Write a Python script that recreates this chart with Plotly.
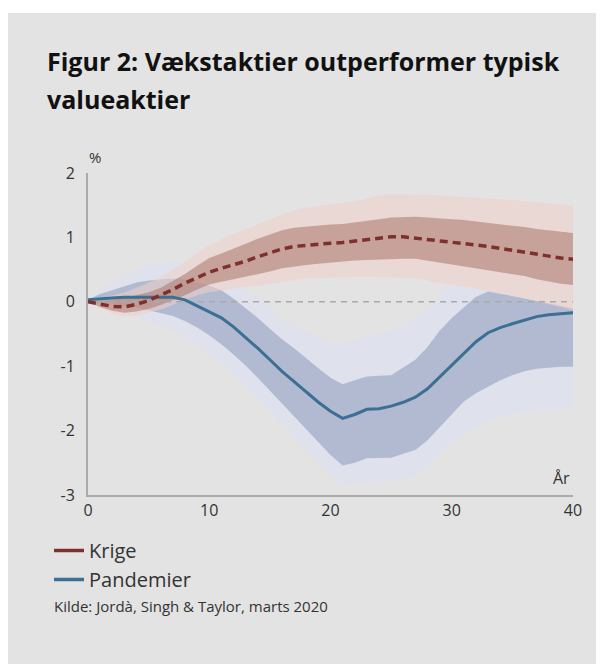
import plotly.graph_objects as go

years = list(range(0, 41))

krige_mean = [0.0, -0.04, -0.07, -0.08, -0.04, 0.02, 0.10, 0.19, 0.29, 0.38, 0.46, 0.52, 0.57, 0.63, 0.70,
              0.76, 0.82, 0.86, 0.88, 0.90, 0.91, 0.92, 0.94, 0.96, 0.99, 1.01, 1.01, 0.99, 0.97, 0.95,
              0.93, 0.91, 0.89, 0.86, 0.83, 0.80, 0.77, 0.73, 0.70, 0.68, 0.66]
krige_light_hi = [0.0, 0.05, 0.10, 0.15, 0.22, 0.30, 0.38, 0.50, 0.63, 0.76, 0.88, 0.97, 1.05, 1.12, 1.20,
                  1.28, 1.36, 1.42, 1.46, 1.49, 1.51, 1.53, 1.56, 1.60, 1.65, 1.67, 1.67, 1.67, 1.66, 1.65,
                  1.64, 1.63, 1.62, 1.61, 1.60, 1.58, 1.56, 1.54, 1.52, 1.51, 1.50]
krige_dark_hi = [0.0, 0.01, 0.03, 0.06, 0.10, 0.15, 0.22, 0.32, 0.43, 0.56, 0.68, 0.75, 0.82, 0.90, 0.98,
                 1.05, 1.11, 1.15, 1.17, 1.18, 1.20, 1.21, 1.23, 1.25, 1.28, 1.31, 1.32, 1.32, 1.31, 1.29,
                 1.28, 1.27, 1.25, 1.23, 1.21, 1.19, 1.16, 1.13, 1.11, 1.09, 1.07]
krige_dark_lo = [0.0, -0.08, -0.14, -0.17, -0.15, -0.11, -0.05, 0.02, 0.10, 0.19, 0.27, 0.31, 0.35, 0.38, 0.42,
                 0.47, 0.52, 0.55, 0.57, 0.59, 0.61, 0.63, 0.64, 0.65, 0.66, 0.67, 0.67, 0.67, 0.64, 0.61,
                 0.58, 0.55, 0.52, 0.50, 0.47, 0.44, 0.40, 0.35, 0.31, 0.28, 0.26]
krige_light_lo = [0.0, -0.10, -0.18, -0.22, -0.21, -0.17, -0.12, -0.05, 0.03, 0.10, 0.15, 0.18, 0.21, 0.23, 0.25,
                  0.28, 0.31, 0.34, 0.36, 0.37, 0.38, 0.39, 0.39, 0.39, 0.39, 0.38, 0.37, 0.36, 0.33, 0.30,
                  0.27, 0.24, 0.21, 0.17, 0.13, 0.10, 0.06, 0.01, -0.04, -0.09, -0.13]

pand_mean = [0.03, 0.05, 0.06, 0.07, 0.07, 0.07, 0.07, 0.07, 0.03, -0.06, -0.15, -0.25, -0.39, -0.55, -0.72,
             -0.90, -1.08, -1.24, -1.40, -1.56, -1.70, -1.81, -1.75, -1.67, -1.66, -1.62, -1.56, -1.48, -1.35, -1.17,
             -0.99, -0.80, -0.62, -0.48, -0.40, -0.34, -0.28, -0.23, -0.20, -0.18, -0.17]
pand_light_hi = [0.03, 0.18, 0.30, 0.42, 0.50, 0.56, 0.60, 0.62, 0.60, 0.53, 0.46, 0.38, 0.28, 0.18, 0.05,
                 -0.10, -0.25, -0.36, -0.45, -0.55, -0.63, -0.65, -0.58, -0.52, -0.50, -0.45, -0.38, -0.25, -0.10, 0.10,
                 0.27, 0.25, 0.21, 0.17, 0.13, 0.10, 0.06, 0.02, -0.03, -0.07, -0.10]
pand_dark_hi = [0.03, 0.12, 0.18, 0.24, 0.30, 0.33, 0.35, 0.36, 0.35, 0.30, 0.25, 0.18, 0.05, -0.10, -0.25,
                -0.42, -0.58, -0.72, -0.88, -1.03, -1.18, -1.28, -1.22, -1.16, -1.15, -1.14, -1.02, -0.90, -0.70, -0.45,
                -0.25, -0.08, 0.08, 0.16, 0.13, 0.09, 0.05, 0.01, -0.03, -0.07, -0.10]
pand_dark_lo = [0.03, 0.0, -0.02, -0.05, -0.09, -0.13, -0.17, -0.22, -0.30, -0.40, -0.52, -0.66, -0.82, -0.99, -1.18,
                -1.38, -1.58, -1.78, -1.98, -2.18, -2.38, -2.54, -2.50, -2.43, -2.43, -2.42, -2.36, -2.30, -2.15, -1.95,
                -1.75, -1.55, -1.42, -1.32, -1.22, -1.14, -1.08, -1.04, -1.02, -1.01, -1.01]
pand_light_lo = [0.03, -0.03, -0.08, -0.16, -0.24, -0.31, -0.38, -0.45, -0.55, -0.67, -0.80, -0.96, -1.13, -1.31, -1.50,
                 -1.70, -1.90, -2.10, -2.30, -2.50, -2.70, -2.85, -2.82, -2.80, -2.79, -2.77, -2.74, -2.70, -2.55, -2.38,
                 -2.20, -2.05, -1.95, -1.85, -1.78, -1.74, -1.70, -1.68, -1.67, -1.66, -1.66]

zero_x = [0, 40]
zero_y = [0, 0]

y_ticks = [2, 1, 0, -1, -2, -3]
y_tick_labels = ["2", "1", "0", "-1", "-2", "-3"]
x_ticks = [0, 10, 20, 30, 40]
x_tick_labels = ["0", "10", "20", "30", "40"]

series_names = ["Krige", "Pandemier"]

BG = "#e3e3e3"
RED = "#7d302c"
BLUE = "#3b6f93"
FONT = "Open Sans"

W, H = 604, 664
ML, MR, MT, MB = 80, 39, 165, 177
PW, PH = W - ML - MR, H - MT - MB

fig = go.Figure()


def band(lo, hi, color):
    fig.add_trace(go.Scatter(x=years, y=lo, mode="lines", line=dict(width=0), showlegend=False, hoverinfo="skip"))
    fig.add_trace(go.Scatter(x=years, y=hi, mode="lines", line=dict(width=0), fill="tonexty",
                             fillcolor=color, showlegend=False, hoverinfo="skip"))


band(pand_light_lo, pand_light_hi, "rgba(220,226,246,0.5)")
band(pand_dark_lo, pand_dark_hi, "rgba(148,162,190,0.62)")
band(krige_light_lo, krige_light_hi, "rgba(238,208,200,0.55)")
band(krige_dark_lo, krige_dark_hi, "rgba(172,118,105,0.55)")

fig.add_trace(go.Scatter(x=zero_x, y=zero_y, mode="lines", line=dict(color="#a9a9a9", width=1.5, dash="6px,5px"),
                         showlegend=False, hoverinfo="skip"))

fig.add_trace(go.Scatter(x=years, y=pand_mean, mode="lines", line=dict(color=BLUE, width=3),
                         showlegend=False))
fig.add_trace(go.Scatter(x=years, y=krige_mean, mode="lines", line=dict(color=RED, width=3.5, dash="8px,5px"),
                         showlegend=False))

# legend entries
fig.add_trace(go.Scatter(x=[None], y=[None], mode="lines", line=dict(color=RED, width=3.5), name=series_names[0]))
fig.add_trace(go.Scatter(x=[None], y=[None], mode="lines", line=dict(color=BLUE, width=3.5), name=series_names[1]))


def px(x):
    return (x - 8 - ML) / PW


def py(y):
    return (H - MB - (y - 8)) / PH


annotations = [
    dict(text="<b>Figur 2: Vækstaktier outperformer typisk</b>", x=px(45), y=py(61),
         xanchor="left", yanchor="middle", font=dict(size=25, color="#111111", family=FONT)),
    dict(text="<b>valueaktier</b>", x=px(45), y=py(99), xanchor="left", yanchor="middle",
         font=dict(size=25, color="#111111", family=FONT)),
    dict(text="%", x=px(95), y=py(157), xanchor="center", yanchor="middle",
         font=dict(size=15, color="#333333", family=FONT)),
    dict(text="År", x=px(572), y=py(478), xanchor="right", yanchor="middle",
         font=dict(size=16, color="#333333", family=FONT)),
    dict(text="Kilde: Jordà, Singh & Taylor, marts 2020", x=px(52), y=py(606),
         xanchor="left", yanchor="middle", font=dict(size=15, color="#333333", family=FONT)),
]
for a in annotations:
    a.update(xref="paper", yref="paper", showarrow=False)

fig.update_layout(
    width=W, height=H,
    paper_bgcolor=BG, plot_bgcolor=BG,
    margin=dict(l=ML, r=MR, t=MT, b=MB, pad=0),
    font=dict(family=FONT, color="#333333", size=16),
    showlegend=True,
    legend=dict(x=px(49), y=py(531), xanchor="left", yanchor="top", bgcolor="rgba(0,0,0,0)",
                traceorder="normal", font=dict(size=20, color="#333333", family=FONT),
                itemwidth=30, tracegroupgap=0),
    xaxis=dict(range=[0, 40], tickvals=x_ticks, ticktext=x_tick_labels, showgrid=False, zeroline=False,
               showline=True, linecolor="#ababab", linewidth=2, ticks="", tickfont=dict(size=16, color="#333333")),
    yaxis=dict(range=[-3, 2], tickvals=y_ticks, ticktext=y_tick_labels, showgrid=False, zeroline=False,
               showline=True, linecolor="#ababab", linewidth=2, ticks="", ticklabelstandoff=8,
               tickfont=dict(size=16, color="#333333")),
    annotations=annotations,
    shapes=[dict(type="rect", xref="paper", yref="paper", x0=-1, x1=2, y0=py(8), y1=py(13),
                 fillcolor="white", line=dict(width=0), layer="below")],
)

fig.write_html("out.html")
